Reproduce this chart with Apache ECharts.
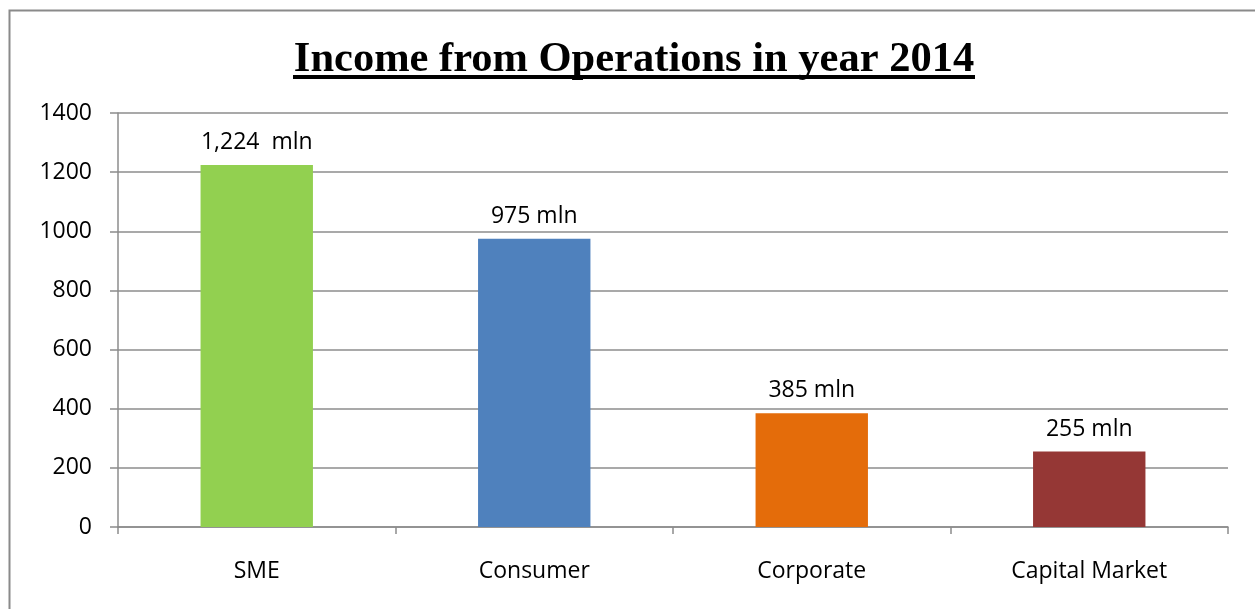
<!DOCTYPE html>
<html><head><meta charset="utf-8">
<script src="https://cdn.jsdelivr.net/npm/echarts@6/dist/echarts.min.js"></script>
<style>html,body{margin:0;padding:0;background:#fff}#c{width:1255px;height:609px}</style>
</head><body><div id="c"></div>
<script>
const categories = ['SME', 'Consumer', 'Corporate', 'Capital Market'];
const values = [1224, 975, 385, 255];
const labels = ['1,224  mln', '975 mln', '385 mln', '255 mln'];
const colors = ['#92D050', '#4F81BD', '#E46C0A', '#953735'];
const titleText = 'Income from Operations in year 2014';

const chart = echarts.init(document.getElementById('c'), null, {renderer: 'canvas'});
const font = '"Open Sans", Lato, sans-serif';
chart.setOption({
  animation: false,
  grid: {left: 118, right: 27, top: 113, bottom: 82},
  graphic: [
    {type: 'rect', shape: {x: 9.5, y: 10.5, width: 1300, height: 700}, style: {fill: 'none', stroke: '#8a8a8a', lineWidth: 2}, silent: true},
    {type: 'text', x: 634, y: 39, style: {text: titleText, font: 'bold 42.5px "Liberation Serif", serif', fill: '#000', align: 'center', verticalAlign: 'top'}},
    {type: 'rect', shape: {x: 293, y: 75, width: 682, height: 4}, style: {fill: '#000'}}
  ],
  xAxis: {
    type: 'category', data: categories,
    axisLine: {lineStyle: {color: '#8c8c8c', width: 1.5}},
    axisTick: {show: true, length: 7, lineStyle: {color: '#8c8c8c', width: 1.5}},
    axisLabel: {color: '#000', fontSize: 23, fontFamily: font, margin: 33}
  },
  yAxis: {
    type: 'value', min: 0, max: 1400, interval: 200,
    axisLine: {show: true, lineStyle: {color: '#8c8c8c', width: 1.5}},
    axisTick: {show: true, length: 8, lineStyle: {color: '#8c8c8c', width: 1.5}},
    splitLine: {lineStyle: {color: '#8c8c8c', width: 1.5}},
    axisLabel: {color: '#000', fontSize: 23, fontFamily: font, margin: 26, formatter: v => String(v)}
  },
  series: [{
    type: 'bar', barWidth: '40.5%',
    data: values.map((v, i) => ({value: v, itemStyle: {color: colors[i]}, label: {formatter: labels[i]}})),
    label: {show: true, position: 'top', distance: 11, color: '#000', fontSize: 23, fontFamily: font}
  }]
});
</script></body></html>
